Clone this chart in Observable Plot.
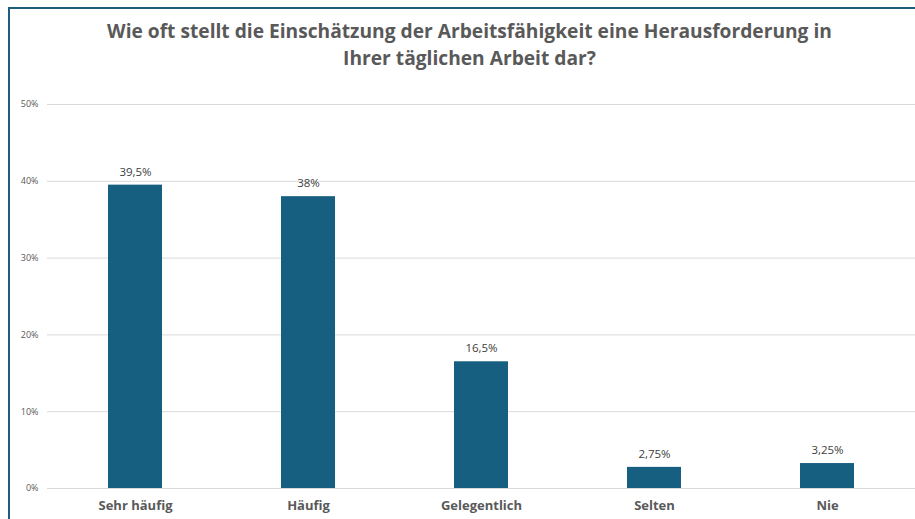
<!DOCTYPE html>
<html>
<head>
<meta charset="utf-8">
<script src="https://cdn.jsdelivr.net/npm/d3@7"></script>
<script src="https://cdn.jsdelivr.net/npm/@observablehq/plot@0.6"></script>
<style>
  html, body { margin: 0; padding: 0; width: 915px; height: 519px; overflow: hidden; background: #fff; }
  #wrap { position: relative; width: 915px; height: 519px; }
  #frame { position: absolute; left: 8px; top: 7px; width: 1000px; height: 600px;
           border-left: 2px solid #1b5f7c; border-top: 2px solid #1b5f7c; }
  #title { position: absolute; left: 0; top: 17px; width: 939px; text-align: center;
           font-family: "Open Sans", sans-serif; font-weight: 700; font-size: 19.2px;
           line-height: 27px; color: #595959; }
  #chart { position: absolute; left: 0; top: 0; }
</style>
</head>
<body>
<div id="wrap">
  <div id="frame"></div>
  <div id="title">Wie oft stellt die Einschätzung der Arbeitsfähigkeit eine Herausforderung in<br>Ihrer täglichen Arbeit dar?</div>
  <div id="chart"></div>
</div>
<script>
const categories = ["Sehr häufig", "Häufig", "Gelegentlich", "Selten", "Nie"];
const values = [39.5, 38, 16.5, 2.75, 3.25];
const valueLabels = ["39,5%", "38%", "16,5%", "2,75%", "3,25%"];
const yTicks = [0, 10, 20, 30, 40, 50];

const data = categories.map((c, i) => ({category: c, value: values[i], label: valueLabels[i]}));

const chart = Plot.plot({
  width: 915,
  height: 519,
  marginTop: 104,
  marginBottom: 31,
  marginLeft: 47,
  marginRight: 0,
  style: {background: "transparent", fontFamily: "'Open Sans', sans-serif", overflow: "visible"},
  x: {domain: categories, paddingInner: 0.69, paddingOuter: 0.345, label: null},
  y: {domain: [0, 50], ticks: yTicks, label: null},
  marks: [
    Plot.gridY(yTicks, {stroke: "#d9d9d9", strokeOpacity: 1, strokeWidth: 1}),
    Plot.axisY(yTicks, {tickSize: 0, tickPadding: 9, tickFormat: d => d + "%", fontSize: 9, fill: "#595959", label: null}),
    Plot.axisX({tickSize: 0, tickPadding: 12, fontSize: 13, fontWeight: 700, fill: "#595959", label: null}),
    Plot.barY(data, {x: "category", y: "value", fill: "#175f80"}),
    Plot.text(data, {x: "category", y: "value", text: "label", dy: -13, fontSize: 11.5, fill: "#404040"})
  ]
});
document.getElementById("chart").appendChild(chart);
</script>
</body>
</html>
